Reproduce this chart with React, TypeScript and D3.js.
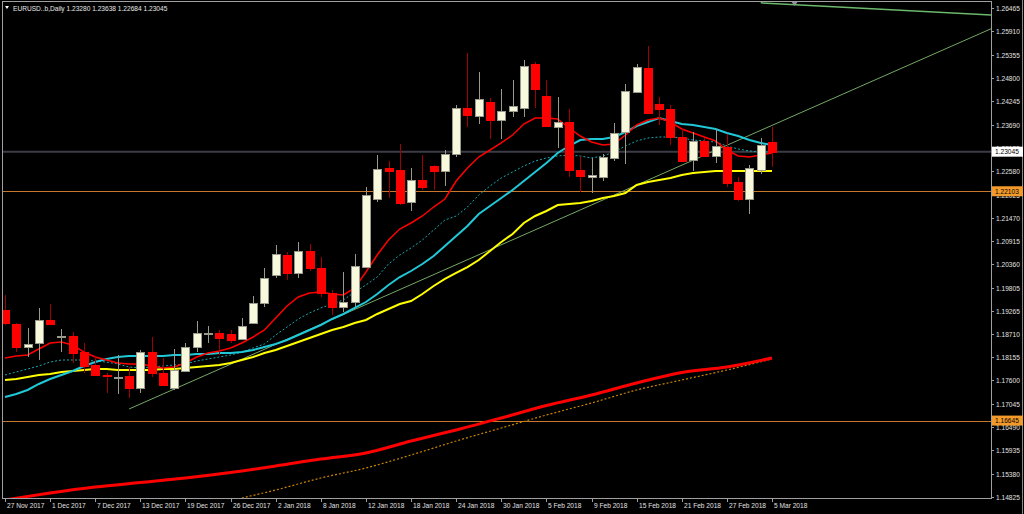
import React, { useLayoutEffect } from 'react';
import * as d3 from 'd3';

const titleText = 'EURUSD..b,Daily  1.23280 1.23638 1.22684 1.23045';

const dateLabels = ['27 Nov 2017', '1 Dec 2017', '7 Dec 2017', '13 Dec 2017', '19 Dec 2017', '26 Dec 2017', '2 Jan 2018', '8 Jan 2018', '12 Jan 2018', '18 Jan 2018', '24 Jan 2018', '30 Jan 2018', '5 Feb 2018', '9 Feb 2018', '15 Feb 2018', '21 Feb 2018', '27 Feb 2018', '5 Mar 2018'];
const dateLabelIdx = [0, 4, 8, 12, 16, 20, 24, 28, 32, 36, 40, 44, 48, 52, 56, 60, 64, 68];

const priceTicks = ['1.26465', '1.25910', '1.25355', '1.24800', '1.24245', '1.23690', '1.23135', '1.22580', '1.22025', '1.21470', '1.20915', '1.20360', '1.19805', '1.19265', '1.18710', '1.18155', '1.17600', '1.17045', '1.16490', '1.15935', '1.15380', '1.14825'];

const opens = [1.19277, 1.18944, 1.18396, 1.18492, 1.19039, 1.18634, 1.18658, 1.18277, 1.17968, 1.17730,
  1.17659, 1.17706, 1.17421, 1.18277, 1.17778, 1.17421, 1.17825, 1.18396, 1.18706, 1.18730,
  1.18706, 1.18587, 1.18968, 1.19444, 1.20110, 1.20586, 1.20158, 1.20681, 1.20277, 1.19682,
  1.19348, 1.19467, 1.20300, 1.21919, 1.22657, 1.22609, 1.21847, 1.22371, 1.22704, 1.22585,
  1.22990, 1.24085, 1.23894, 1.24227, 1.23799, 1.24013, 1.24085, 1.25132, 1.24370, 1.23632,
  1.23751, 1.22609, 1.22442, 1.22442, 1.22895, 1.23513, 1.24465, 1.25037, 1.24180, 1.24061,
  1.23394, 1.22847, 1.23299, 1.22942, 1.23156, 1.22323, 1.21919, 1.22609, 1.23280];
const highs = [1.19634, 1.18968, 1.18849, 1.19325, 1.19420, 1.18825, 1.18753, 1.18492, 1.18158, 1.17778,
  1.18206, 1.17920, 1.18325, 1.18634, 1.18135, 1.18349, 1.18492, 1.19015, 1.18896, 1.18801,
  1.18801, 1.19087, 1.19610, 1.20277, 1.20824, 1.20657, 1.20895, 1.20848, 1.20538, 1.19753,
  1.20181, 1.20610, 1.22204, 1.22966, 1.22823, 1.23228, 1.22657, 1.22966, 1.22720, 1.23085,
  1.24156, 1.25394, 1.24941, 1.24323, 1.24537, 1.24751, 1.25227, 1.25179, 1.24751, 1.24346,
  1.24061, 1.22942, 1.22895, 1.22990, 1.23728, 1.24656, 1.25132, 1.25560, 1.24346, 1.24156,
  1.23609, 1.23513, 1.23371, 1.23585, 1.23466, 1.22442, 1.22728, 1.23371, 1.23638];
const lows = [1.18920, 1.18277, 1.18158, 1.18087, 1.18920, 1.18277, 1.18016, 1.17778, 1.17706, 1.17302,
  1.17278, 1.17183, 1.17302, 1.17682, 1.17470, 1.17373, 1.17801, 1.18277, 1.18492, 1.18206,
  1.18492, 1.18563, 1.18944, 1.19348, 1.20039, 1.19991, 1.20039, 1.20205, 1.19586, 1.19158,
  1.19229, 1.19348, 1.20277, 1.21847, 1.21943, 1.21776, 1.21633, 1.22133, 1.22133, 1.22228,
  1.22918, 1.23632, 1.23704, 1.23347, 1.23347, 1.23870, 1.23870, 1.24085, 1.23632, 1.23133,
  1.22442, 1.22085, 1.22062, 1.22347, 1.22823, 1.22752, 1.24465, 1.23942, 1.23680, 1.23204,
  1.22799, 1.22585, 1.22918, 1.22776, 1.22204, 1.21871, 1.21562, 1.22514, 1.22684];
const closes = [1.18968, 1.18396, 1.18468, 1.19039, 1.18944, 1.18658, 1.18254, 1.17944, 1.17730, 1.17706,
  1.17682, 1.17421, 1.18277, 1.17778, 1.17492, 1.17849, 1.18396, 1.18730, 1.18730, 1.18611,
  1.18563, 1.18896, 1.19444, 1.20039, 1.20610, 1.20158, 1.20681, 1.20277, 1.19682, 1.19348,
  1.19467, 1.20324, 1.22014, 1.22633, 1.22585, 1.21824, 1.22371, 1.22204, 1.22585, 1.22990,
  1.24085, 1.23918, 1.24299, 1.23799, 1.24013, 1.24132, 1.25084, 1.24537, 1.23656, 1.23751,
  1.22609, 1.22466, 1.22490, 1.22918, 1.23490, 1.24489, 1.25060, 1.23966, 1.24061, 1.23394,
  1.22823, 1.23299, 1.22942, 1.23180, 1.22300, 1.21919, 1.22657, 1.23204, 1.23045];

const maRed = [1.18135, 1.18182, 1.18206, 1.18349, 1.18492, 1.18515, 1.18444, 1.18277, 1.18158, 1.18087,
  1.18016, 1.17992, 1.17992, 1.17944, 1.17897, 1.17920, 1.18016, 1.18158, 1.18254, 1.18301,
  1.18373, 1.18492, 1.18634, 1.18801, 1.19087, 1.19372, 1.19586, 1.19682, 1.19705, 1.19658,
  1.19634, 1.19801, 1.20181, 1.20586, 1.20943, 1.21205, 1.21348, 1.21514, 1.21728, 1.21919,
  1.22347, 1.22657, 1.22918, 1.23085, 1.23252, 1.23442, 1.23704, 1.23847, 1.23847, 1.23823,
  1.23609, 1.23418, 1.23275, 1.23204, 1.23228, 1.23442, 1.23680, 1.23799, 1.23847, 1.23751,
  1.23585, 1.23490, 1.23394, 1.23299, 1.23085, 1.22942, 1.22918, 1.22966, 1.23014];
const maCyan = [1.17206, 1.17278, 1.17373, 1.17516, 1.17635, 1.17730, 1.17825, 1.17944, 1.18039, 1.18111,
  1.18158, 1.18182, 1.18182, 1.18182, 1.18182, 1.18206, 1.18206, 1.18230, 1.18230, 1.18254,
  1.18254, 1.18277, 1.18325, 1.18396, 1.18468, 1.18563, 1.18682, 1.18801, 1.18920, 1.19063,
  1.19182, 1.19325, 1.19467, 1.19658, 1.19872, 1.20062, 1.20205, 1.20372, 1.20562, 1.20800,
  1.21038, 1.21276, 1.21562, 1.21752, 1.21943, 1.22133, 1.22347, 1.22561, 1.22776, 1.23014,
  1.23180, 1.23323, 1.23347, 1.23347, 1.23394, 1.23513, 1.23656, 1.23751, 1.23847, 1.23775,
  1.23704, 1.23680, 1.23632, 1.23585, 1.23490, 1.23418, 1.23323, 1.23252, 1.23204];
const maCyanDotted = [1.17730, 1.17801, 1.17873, 1.17944, 1.18039, 1.18087, 1.18087, 1.18087, 1.18063, 1.18039,
  1.17992, 1.17920, 1.17897, 1.17920, 1.17944, 1.17968, 1.17992, 1.18063, 1.18111, 1.18158,
  1.18206, 1.18277, 1.18373, 1.18468, 1.18682, 1.18872, 1.19063, 1.19206, 1.19325, 1.19420,
  1.19515, 1.19705, 1.19872, 1.20062, 1.20372, 1.20586, 1.20753, 1.20943, 1.21181, 1.21419,
  1.21514, 1.21728, 1.22014, 1.22228, 1.22419, 1.22561, 1.22704, 1.22823, 1.22895, 1.22942,
  1.22966, 1.22942, 1.22895, 1.22942, 1.23037, 1.23180, 1.23299, 1.23371, 1.23394, 1.23394,
  1.23371, 1.23323, 1.23299, 1.23275, 1.23180, 1.23109, 1.23061, 1.23037, 1.23037];
const maYellow = [1.17611, 1.17635, 1.17682, 1.17730, 1.17754, 1.17801, 1.17825, 1.17849, 1.17873, 1.17873,
  1.17849, 1.17849, 1.17849, 1.17849, 1.17873, 1.17873, 1.17897, 1.17920, 1.17944, 1.17968,
  1.18016, 1.18087, 1.18158, 1.18254, 1.18325, 1.18420, 1.18515, 1.18611, 1.18706, 1.18801,
  1.18872, 1.18968, 1.19039, 1.19182, 1.19301, 1.19420, 1.19491, 1.19658, 1.19848, 1.20015,
  1.20158, 1.20300, 1.20467, 1.20681, 1.20895, 1.21086, 1.21348, 1.21514, 1.21633, 1.21776,
  1.21800, 1.21824, 1.21871, 1.21943, 1.21990, 1.22062, 1.22252, 1.22323, 1.22371, 1.22419,
  1.22490, 1.22538, 1.22561, 1.22585, 1.22585, 1.22585, 1.22585, 1.22585, 1.22585];

const ma200Idx = [0, 4, 8, 12, 16, 20, 24, 28, 32, 36, 40, 44, 48, 52, 56, 60, 64, 68];
const ma200 = [1.14755, 1.14922, 1.15064, 1.15172, 1.15279, 1.15410, 1.15564, 1.15731, 1.15874, 1.16159, 1.16421, 1.16707, 1.17004, 1.17254, 1.17540, 1.17790, 1.17920, 1.18135];
const maOrangeIdx = [21, 24, 28, 32, 36, 40, 44, 48, 52, 56, 60, 64, 68];
const maOrange = [1.14803, 1.14993, 1.15279, 1.15517, 1.15826, 1.16159, 1.16469, 1.16778, 1.17064, 1.17373, 1.17611, 1.17849, 1.18111];

const trendLow: [number, number][] = [[11, 1.16921], [68, 1.23671]];
const trendTop: [number, number][] = [[67, 1.26588], [87, 1.26304]];

const lastPrice = 1.23045;
const orangeLevels = [1.22103, 1.16645];
const shiftMarkIdx = 70;

const FONT = '"Liberation Sans", Arial, sans-serif';
const FS = 6.6;

export default function App() {
  useLayoutEffect(() => {
    document.body.style.margin = '0';
    document.body.style.background = '#000';
  }, []);

  const plot = { l: 3, r: 991, t: 2, b: 498 };
  const x = d3.scaleLinear().domain([0, 68]).range([5, 772]);
  const y = d3.scaleLinear().domain([1.14825, 1.26465]).range([497.06, 7.98]);

  const lineSeries = d3.line<number>().x((_, i) => x(i)).y((d) => y(d));
  const sampled = (idx: number[]) =>
    d3.line<number>().x((_, i) => x(idx[i])).y((d) => y(d)).curve(d3.curveMonotoneX);

  const rightIdx = x.invert(plot.r);
  const extend = (a: [number, number][], toIdx: number) => {
    const [[i1, p1], [i2, p2]] = a;
    const s = (p2 - p1) / (i2 - i1);
    return { x1: x(i1), y1: y(p1), x2: x(toIdx), y2: y(p1 + s * (toIdx - i1)) };
  };
  const tl = extend(trendLow, rightIdx);
  const tt = extend(trendTop, rightIdx);

  const bullBody = '#f8f8dc';
  const bullLine = '#9a9a8c';
  const bearBody = '#ff0000';
  const bearLine = '#a00000';

  const candles = opens.map((o, i) => {
    const c = closes[i];
    const bull = c >= o;
    const cx = Math.round(x(i)) + 0.5;
    const yT = Math.round(y(Math.max(o, c)));
    const yB = Math.round(y(Math.min(o, c)));
    return (
      <g key={i}>
        <line x1={cx} x2={cx} y1={y(highs[i])} y2={y(lows[i])} stroke={bull ? bullLine : bearLine} strokeWidth={1} />
        <rect x={cx - 4} y={yT + 0.5} width={8} height={Math.max(yB - yT, 1)}
          fill={bull ? bullBody : bearBody} stroke={bull ? bullLine : bearBody} strokeWidth={1} />
      </g>
    );
  });

  return (
    <svg width={1024} height={514} style={{ display: 'block', background: '#000' }} fontFamily={FONT}>
      <defs>
        <clipPath id="plotclip">
          <rect x={plot.l} y={plot.t} width={plot.r - plot.l} height={plot.b - plot.t} />
        </clipPath>
      </defs>
      <rect x={0} y={0} width={1024} height={514} fill="#000" />

      <g clipPath="url(#plotclip)">
        {/* horizontal levels */}
        <line x1={plot.l} x2={plot.r} y1={y(lastPrice)} y2={y(lastPrice)} stroke="#3c3c46" strokeWidth={2} />
        {orangeLevels.map((p) => (
          <line key={p} x1={plot.l} x2={plot.r} y1={Math.round(y(p)) + 0.5} y2={Math.round(y(p)) + 0.5} stroke="#c8782a" strokeWidth={1} />
        ))}

        {/* long MAs */}
        <path d={sampled(maOrangeIdx)(maOrange) || ''} fill="none" stroke="#c88400" strokeWidth={1.2} strokeDasharray="2,2" />
        <path d={sampled(ma200Idx)(ma200) || ''} fill="none" stroke="#ff0000" strokeWidth={3} />

        {/* trendlines */}
        <line {...tl} stroke="#74a864" strokeWidth={1} />
        <line {...tt} stroke="#6cb86c" strokeWidth={1.5} />

        {/* MAs */}
        <path d={lineSeries(maYellow) || ''} fill="none" stroke="#ffff00" strokeWidth={2} />
        <path d={lineSeries(maCyanDotted) || ''} fill="none" stroke="#1aa7b0" strokeWidth={1} strokeDasharray="2,2" />
        <path d={lineSeries(maCyan) || ''} fill="none" stroke="#20c8d8" strokeWidth={2} />
        <path d={lineSeries(maRed) || ''} fill="none" stroke="#ff0000" strokeWidth={1.5} />

        {candles}
      </g>

      {/* frame */}
      <rect x={plot.l - 0.5} y={plot.t - 0.5} width={plot.r - plot.l + 1} height={plot.b - plot.t + 1} fill="none" stroke="#a0a0a0" strokeWidth={1} />
      <line x1={1022.5} x2={1022.5} y1={0} y2={514} stroke="#8a8a8a" strokeWidth={1} />

      {/* chart shift marker */}
      <path d={`M${x(shiftMarkIdx) - 3},${plot.t} L${x(shiftMarkIdx) + 3},${plot.t} L${x(shiftMarkIdx)},${plot.t + 4} Z`} fill="#9090a0" />

      {/* title */}
      <path d="M5,6 L9,6 L7,9 Z" fill="#ffffff" />
      <text x={13} y={11} fontSize={FS} fill="#e8e8e8">{titleText}</text>

      {/* price axis */}
      {priceTicks.map((t) => {
        const yy = Math.round(y(parseFloat(t))) + 0.5;
        return (
          <g key={t}>
            <line x1={plot.r} x2={plot.r + 3} y1={yy} y2={yy} stroke="#a0a0a0" />
            <text x={plot.r + 5} y={yy} dy="0.35em" fontSize={FS} fill="#e0e0e0">{t}</text>
          </g>
        );
      })}

      {/* price boxes */}
      <g>
        <rect x={plot.r + 1} y={y(lastPrice) - 5} width={31} height={10} fill="#ffffff" />
        <text x={plot.r + 4} y={y(lastPrice)} dy="0.35em" fontSize={FS} fill="#000">{lastPrice.toFixed(5)}</text>
      </g>
      {orangeLevels.map((p) => (
        <g key={'b' + p}>
          <rect x={plot.r + 1} y={y(p) - 5} width={31} height={10} fill="#f39a2b" />
          <text x={plot.r + 4} y={y(p)} dy="0.35em" fontSize={FS} fill="#000">{p.toFixed(5)}</text>
        </g>
      ))}

      {/* time axis */}
      {dateLabels.map((d, k) => {
        const xx = Math.round(x(dateLabelIdx[k])) + 0.5;
        return (
          <g key={d}>
            <line x1={xx} x2={xx} y1={plot.b} y2={plot.b + 4} stroke="#a0a0a0" />
            <text x={xx + 1.5} y={508} fontSize={FS} fill="#e0e0e0">{d}</text>
          </g>
        );
      })}
    </svg>
  );
}
